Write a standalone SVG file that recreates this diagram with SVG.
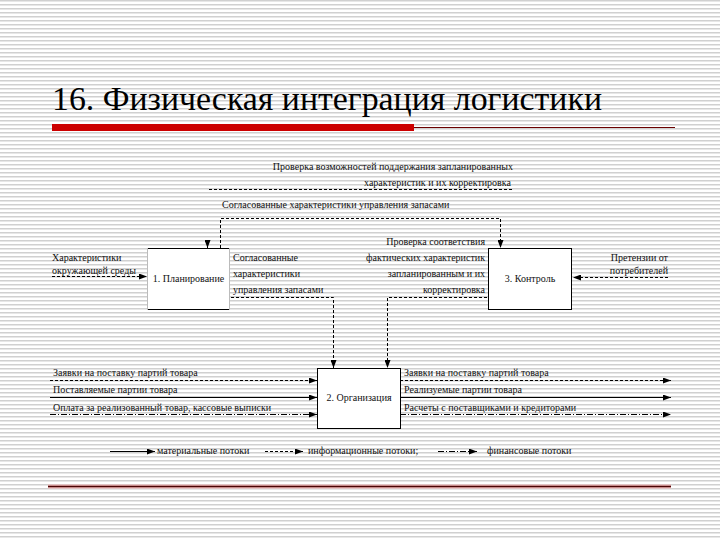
<svg xmlns="http://www.w3.org/2000/svg" width="720" height="540" viewBox="0 0 720 540" font-family="Liberation Serif, Times New Roman, DejaVu Serif, serif">
<defs>
<pattern id="stripes" x="0" y="0" width="8" height="4" patternUnits="userSpaceOnUse">
<rect x="0" y="0" width="8" height="4" fill="#ffffff"/>
<rect x="0" y="0" width="8" height="1.5" fill="#d0d0d0"/>
</pattern>
<marker id="ah" viewBox="0 0 8 6" refX="8" refY="3" markerWidth="8" markerHeight="6" markerUnits="userSpaceOnUse" orient="auto">
<path d="M0,0 L8,3 L0,6 Z" fill="#000"/>
</marker>
<style>
.t{font-size:10px;fill:#111}
.title{font-size:34px;fill:#000}
.box{fill:#fff;stroke:#000;stroke-width:1}
.sol{fill:none;stroke:#000;stroke-width:1}
.inf{fill:none;stroke:#000;stroke-width:1;stroke-dasharray:3,2}
.fin{fill:none;stroke:#000;stroke-width:1;stroke-dasharray:6,2,1,2}
.a{marker-end:url(#ah)}
</style>
</defs>
<rect x="0" y="0" width="720" height="540" fill="url(#stripes)"/>
<g id="title">
<text class="title" x="52" y="110" textLength="550" lengthAdjust="spacingAndGlyphs" font-family="Liberation Serif, serif">16. Физическая интеграция логистики</text>
<rect x="52" y="124" width="362" height="7" fill="#cc0000"/>
<line x1="414" y1="127.5" x2="675" y2="127.5" stroke="#6a0000" stroke-width="1"/>
</g>
<g id="bottom-rule">
<line x1="48" y1="486.5" x2="671" y2="486.5" stroke="#f2b8b8" stroke-width="4"/>
<line x1="48" y1="486.5" x2="671" y2="486.5" stroke="#4a0505" stroke-width="1.5"/>
</g>
<g id="connectors">
<line class="inf" x1="512" y1="189.5" x2="208" y2="189.5"/>
<line class="inf a" x1="207.5" y1="240" x2="207.5" y2="248"/>
<polyline class="inf a" points="220.5,248 220.5,218.5 500.5,218.5 500.5,248"/>
<line class="inf a" x1="52" y1="276.5" x2="147" y2="276.5"/>
<polyline class="inf a" points="231,297.5 333.5,297.5 333.5,368"/>
<polyline class="inf a" points="487,297.5 387.5,297.5 387.5,368"/>
<line class="inf a" x1="668" y1="277.5" x2="573" y2="277.5"/>
<line class="inf a" x1="50" y1="380.5" x2="317" y2="380.5"/>
<line class="sol a" x1="50" y1="397.5" x2="317" y2="397.5"/>
<line class="fin a" x1="50" y1="414.5" x2="317" y2="414.5"/>
<line class="inf a" x1="400" y1="380.5" x2="671" y2="380.5"/>
<line class="sol a" x1="400" y1="397.5" x2="671" y2="397.5"/>
<line class="fin a" x1="400" y1="414.5" x2="671" y2="414.5"/>
</g>
<g id="node-planning">
<rect x="147" y="248" width="83" height="62" fill="#fff" stroke="none"/>
<line x1="147" y1="248.5" x2="230" y2="248.5" stroke="#000"/>
<line x1="147" y1="309.5" x2="230" y2="309.5" stroke="#000"/>
<line x1="147.5" y1="248" x2="147.5" y2="310" stroke="#bbb"/>
<line x1="229.5" y1="248" x2="229.5" y2="310" stroke="#bbb"/>
<text class="t" x="188.5" y="282" text-anchor="middle">1. Планирование</text>
</g>
<g id="node-control">
<rect class="box" x="488.5" y="248.5" width="83" height="61"/>
<text class="t" x="530" y="282" text-anchor="middle">3. Контроль</text>
</g>
<g id="node-organisation">
<rect class="box" x="317.5" y="368.5" width="83" height="60"/>
<text class="t" x="359" y="401" text-anchor="middle">2. Организация</text>
</g>
<g id="labels">
<text class="t" x="513" y="170" text-anchor="end">Проверка возможностей поддержания запланированных</text>
<text class="t" x="511" y="186" text-anchor="end">характеристик и их корректировка</text>
<text class="t" x="222" y="208">Согласованные характеристики управления запасами</text>
<text class="t" x="52" y="261">Характеристики</text>
<text class="t" x="52" y="274">окружающей среды</text>
<text class="t" x="233" y="261">Согласованные</text>
<text class="t" x="233" y="277">характеристики</text>
<text class="t" x="233" y="293">управления запасами</text>
<text class="t" x="485" y="245" text-anchor="end">Проверка соответствия</text>
<text class="t" x="485" y="261" text-anchor="end">фактических характеристик</text>
<text class="t" x="485" y="277" text-anchor="end">запланированным и их</text>
<text class="t" x="485" y="293" text-anchor="end">корректировка</text>
<text class="t" x="668" y="261" text-anchor="end">Претензии от</text>
<text class="t" x="668" y="274" text-anchor="end">потребителей</text>
<text class="t" x="53" y="376">Заявки на поставку партий товара</text>
<text class="t" x="53" y="393">Поставляемые партии товара</text>
<text class="t" x="53" y="411">Оплата за реализованный товар, кассовые выписки</text>
<text class="t" x="404" y="376">Заявки на поставку партий товара</text>
<text class="t" x="404" y="393">Реализуемые партии товара</text>
<text class="t" x="404" y="411">Расчеты с поставщиками и кредиторами</text>
</g>
<g id="legend">
<line class="sol a" x1="110" y1="451.5" x2="155" y2="451.5"/>
<text class="t" x="157" y="454">материальные потоки</text>
<line class="inf a" x1="265" y1="451.5" x2="303" y2="451.5"/>
<text class="t" x="308" y="454">информационные потоки;</text>
<line class="fin a" x1="438" y1="451.5" x2="477" y2="451.5"/>
<text class="t" x="487" y="454">финансовые потоки</text>
</g>
</svg>
